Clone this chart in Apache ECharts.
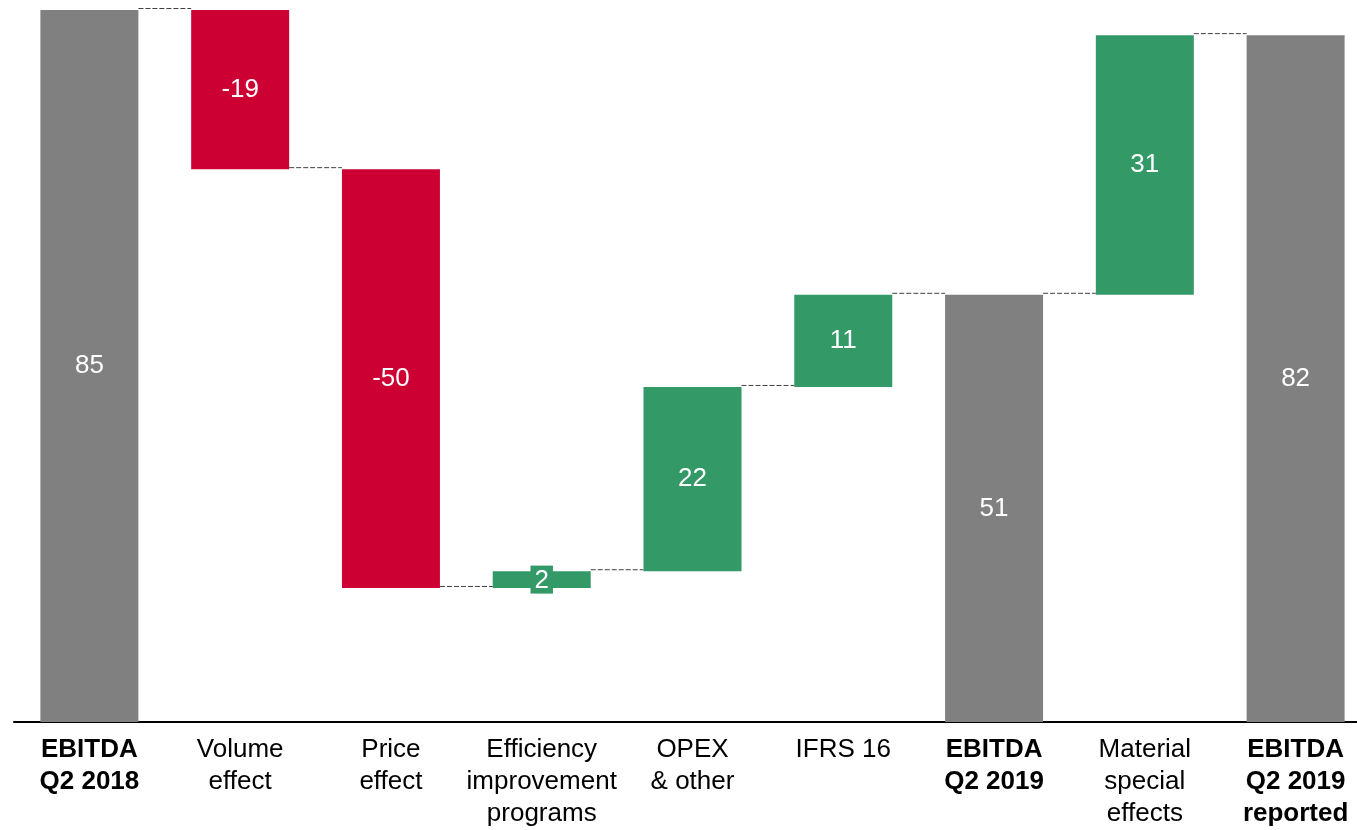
<!DOCTYPE html>
<html>
<head>
<meta charset="utf-8">
<script src="https://cdn.jsdelivr.net/npm/echarts@6/dist/echarts.min.js"></script>
<style>
  html, body { margin: 0; padding: 0; background: #fff; }
  #main { width: 1357px; height: 830px; }
</style>
</head>
<body>
<div id="main"></div>
<script>
// categories on the x axis
var categories = [
  'EBITDA\nQ2 2018', 'Volume\neffect', 'Price\neffect', 'Efficiency\nimprovement\nprograms',
  'OPEX\n& other', 'IFRS 16', 'EBITDA\nQ2 2019', 'Material\nspecial\neffects', 'EBITDA\nQ2 2019\nreported'
];
// values (totals are absolute, others are changes)
var values = [85, -19, -50, 2, 22, 11, 51, 31, 82];
var isTotal = [true, false, false, false, false, false, true, false, true];

var colTotal = '#808080', colDown = '#CC0033', colUp = '#339966';

// build the invisible base + visible part of the waterfall
var base = [], visible = [], levels = [];
var running = 0;
for (var i = 0; i < values.length; i++) {
  var v = values[i], color;
  if (isTotal[i]) {
    base.push(0);
    visible.push(v);
    running = v;
    color = colTotal;
  } else if (v >= 0) {
    base.push(running);
    visible.push(v);
    running += v;
    color = colUp;
  } else {
    running += v;
    base.push(running);
    visible.push(-v);
    color = colDown;
  }
  visible[i] = { value: visible[i], itemStyle: { color: color } };
  levels.push(running);
}

// connector lines between neighbouring bars
var connectors = [];
for (var j = 0; j < levels.length - 1; j++) {
  connectors.push([j, levels[j]]);
}

var BAR_W = 98;
var chart = echarts.init(document.getElementById('main'));

var option = {
  animation: false,
  textStyle: { fontFamily: 'Liberation Sans, Arial, sans-serif' },
  grid: { left: 14, width: 1357, top: 10, bottom: 108, outerBoundsMode: 'none', containLabel: false },
  xAxis: {
    type: 'category',
    data: categories,
    axisTick: { show: false },
    axisLine: { lineStyle: { color: '#000', width: 2 } },
    axisLabel: {
      interval: 0,
      margin: 12,
      color: '#000',
      fontSize: 26,
      lineHeight: 32,
      formatter: function (val, idx) {
        if (isTotal[idx]) return '{b|' + val.split('\n').join('}\n{b|') + '}';
        return val;
      },
      rich: {
        b: { fontWeight: 'bold', fontSize: 26, lineHeight: 32, color: '#000' }
      }
    }
  },
  yAxis: {
    type: 'value',
    min: 0,
    max: 85,
    show: false,
    splitLine: { show: false }
  },
  series: [
    {
      type: 'bar',
      stack: 'wf',
      barWidth: BAR_W,
      itemStyle: { color: 'transparent' },
      emphasis: { disabled: true },
      data: base
    },
    {
      type: 'bar',
      stack: 'wf',
      barWidth: BAR_W,
      data: visible,
      label: {
        show: true,
        position: 'inside',
        color: '#fff',
        fontSize: 26,
        formatter: function (p) {
          var v = values[p.dataIndex];
          if (Math.abs(v) < 5) return '{s|' + v + '}';
          return String(v);
        },
        rich: {
          s: { backgroundColor: colUp, color: '#fff', fontSize: 26, padding: [2, 4, 0, 4] }
        }
      }
    },
    {
      type: 'custom',
      silent: true,
      data: connectors,
      renderItem: function (params, api) {
        var idx = api.value(0), lvl = api.value(1);
        var a = api.coord([idx, lvl]);
        var b = api.coord([idx + 1, lvl]);
        return {
          type: 'line',
          shape: { x1: a[0] + BAR_W / 2, y1: a[1] - 1.5, x2: b[0] - BAR_W / 2, y2: b[1] - 1.5 },
          style: { stroke: '#404040', lineWidth: 1, lineDash: [5, 2] }
        };
      }
    }
  ]
};

chart.setOption(option);
</script>
</body>
</html>
